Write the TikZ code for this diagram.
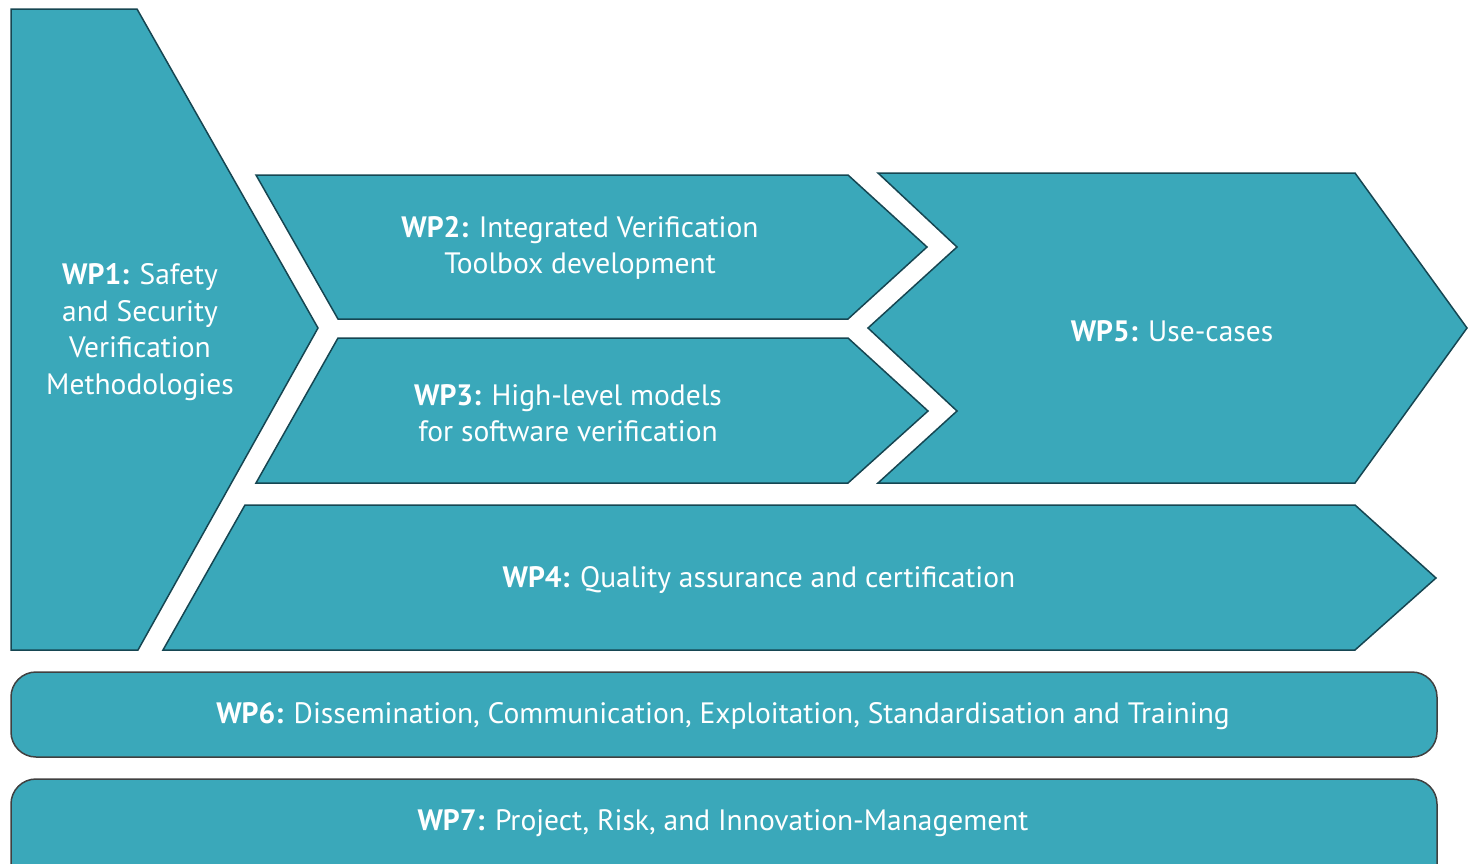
\documentclass[tikz,border=0pt]{standalone}
\usepackage{fontspec}
\setmainfont{PT Sans}
\definecolor{wpfill}{RGB}{58,168,186}
\definecolor{wpline}{RGB}{22,70,82}
\tikzset{
  wp/.style={fill=wpfill, draw=wpline, line width=1.5pt},
  bar/.style={wp, draw=black!75, rounded corners=25pt},
  lbl/.style={text=white, align=center, inner sep=0pt, font=\fontsize{29.5}{36.5}\selectfont}
}
\begin{document}
\begin{tikzpicture}[x=1pt, y=-1pt, line join=miter]
\useasboundingbox (0,0) rectangle (1468,863);
\clip (0,0) rectangle (1468,863);
% arrow shaped work packages
\draw[wp] (11,9)--(137,9)--(318,328)--(138,650)--(11,650)--cycle;
\draw[wp] (256,175)--(848,175)--(927,247)--(848,319)--(338,319)--cycle;
\draw[wp] (338,338)--(848,338)--(928,411)--(848,483)--(256,483)--cycle;
\draw[wp] (878,173)--(1355,173)--(1467,328)--(1355,483)--(878,483)--(957,411)--(868,328)--(957,247)--cycle;
\draw[wp] (245,505)--(1355,505)--(1436,578)--(1355,650)--(163,650)--cycle;
% horizontal bars
\draw[bar] (11,672) rectangle (1437,757);
\draw[bar] (11,779) rectangle (1437,900);
% labels
\node[lbl] (wp1) at (140,332) {\textbf{WP1:} Safety\\and Security\\Verification\\Methodologies};
\node[lbl] (wp2) at (580,248) {\textbf{WP2:} Integrated Verification\\Toolbox development};
\node[lbl] (wp3) at (568,413) {\textbf{WP3:} High-level models\\for software verification};
\node[lbl] (wp5) at (1172,331) {\textbf{WP5:} Use-cases};
\node[lbl] (wp4) at (759,580) {\textbf{WP4:} Quality assurance and certification};
\node[lbl] (wp6) at (723,716) {\textbf{WP6:} Dissemination, Communication, Exploitation, Standardisation and Training};
\node[lbl] (wp7) at (723,823) {\textbf{WP7:} Project, Risk, and Innovation-Management};
\end{tikzpicture}
\end{document}
